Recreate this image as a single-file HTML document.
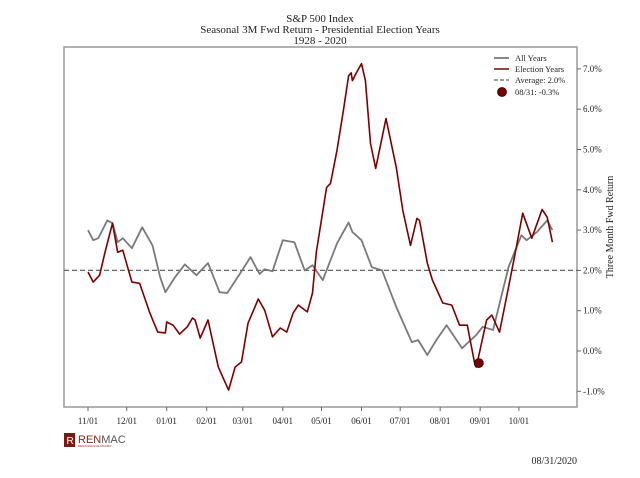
<!DOCTYPE html>
<html><head><meta charset="utf-8"><style>
body{margin:0;background:#fff;}
svg text{font-family:"Liberation Serif",serif;fill:#222;}
</style></head><body>
<svg width="640" height="473" viewBox="0 0 640 473" xmlns="http://www.w3.org/2000/svg">
<g id="root"></g>
</svg>
<script>
const tickDays=[0,30,61,92,120,151,181,212,242,273,304,334];
const tickLabels=["11/01","12/01","01/01","02/01","03/01","04/01","05/01","06/01","07/01","08/01","09/01","10/01"];
const yTicks=[-1,0,1,2,3,4,5,6,7];
const electionDays=[0,4,9,13,19,23,27,34,40,48,54,60,61,66,71,77,81,83,87,93,101,109,114,119,124,132,137,143,149,154,159,163,170,174,177,185,188,193,198,202,204,205,208,212,215,219,223,231,239,244,250,255,257,263,267,275,282,288,294,300,301,309,313,319,326,332,337,344,352,356,360];
const electionVals=[1.96,1.71,1.88,2.43,3.17,2.45,2.5,1.71,1.68,0.94,0.47,0.45,0.72,0.64,0.42,0.6,0.82,0.77,0.32,0.77,-0.4,-0.97,-0.4,-0.27,0.69,1.29,1.01,0.35,0.57,0.47,0.94,1.14,0.97,1.44,2.45,4.06,4.16,4.98,5.97,6.83,6.9,6.71,6.9,7.13,6.71,5.15,4.53,5.77,4.55,3.49,2.62,3.29,3.24,2.18,1.76,1.19,1.14,0.64,0.64,-0.35,-0.4,0.77,0.89,0.47,1.58,2.57,3.42,2.8,3.51,3.32,2.7];
const allDays=[0,4,8,15,19,23,27,34,42,50,56,60,67,75,84,93,102,108,118,126,133,137,143,151,160,168,174,182,193,202,205,212,220,228,239,251,256,263,270,278,290,301,306,314,326,336,340,348,356,360];
const allVals=[3.0,2.75,2.8,3.24,3.17,2.7,2.8,2.55,3.07,2.62,1.83,1.46,1.81,2.15,1.88,2.18,1.46,1.44,1.93,2.33,1.91,2.03,1.98,2.75,2.7,2.0,2.13,1.76,2.67,3.19,2.95,2.75,2.08,2.0,1.09,0.22,0.27,-0.1,0.27,0.64,0.07,0.4,0.6,0.52,2.08,2.87,2.75,2.95,3.24,3.0];
const avgVal=2.0;
const markerDay=303, markerVal=-0.3;

const L=64,T=47,R=577,B=407;
const xS=d=>88+d*1.29;
const yS=v=>351-40.3*v;
const NS="http://www.w3.org/2000/svg";
const root=document.getElementById('root');
function mk(tag,attrs,parent){const e=document.createElementNS(NS,tag);for(const k in attrs)e.setAttribute(k,attrs[k]);(parent||root).appendChild(e);return e;}
function txt(s,attrs){const e=mk('text',attrs);e.textContent=s;return e;}

let t;
t=txt("S&P 500 Index",{x:320,y:22,'text-anchor':'middle','font-size':11});


t=txt("Seasonal 3M Fwd Return - Presidential Election Years",{x:320,y:33,'text-anchor':'middle','font-size':11});


t=txt("1928 - 2020",{x:320,y:44,'text-anchor':'middle','font-size':11});



let frame=mk('rect',{x:L,y:T,width:R-L,height:B-T,fill:'none',stroke:'#999','stroke-width':1.5});



tickDays.forEach((d,i)=>{
  const x=xS(d);
  const l=mk('line',{x1:x,y1:B,x2:x,y2:B+4,stroke:'#666'});
  
  
  const s=txt(tickLabels[i],{x:x,y:B+17,'text-anchor':'middle','font-size':9});
  
  
});
yTicks.forEach(v=>{
  const y=yS(v);
  const l=mk('line',{x1:R,y1:y,x2:R+4,y2:y,stroke:'#666'});
  
  
  const s=txt(v.toFixed(1)+"%",{x:R+6,y:y+3,'font-size':9});
  
  
});
t=txt("Three Month Fwd Return",{x:0,y:0,'text-anchor':'middle','font-size':10,transform:'translate(613,227) rotate(-90)'});



let avg=mk('line',{x1:L,y1:yS(avgVal),x2:R,y2:yS(avgVal),stroke:'#666','stroke-width':1.3,'stroke-dasharray':'5,3'});



function path(days,vals){return days.map((d,i)=>(i?'L':'M')+xS(d).toFixed(1)+','+yS(vals[i]).toFixed(1)).join('');}
let pa=mk('path',{d:path(allDays,allVals),fill:'none',stroke:'#7a7a7a','stroke-width':1.8,'stroke-linejoin':'round'});


let pe=mk('path',{d:path(electionDays,electionVals),fill:'none',stroke:'#7b0000','stroke-width':1.6,'stroke-linejoin':'round'});


let dot=mk('circle',{cx:xS(markerDay),cy:yS(markerVal),r:4.5,fill:'#7b0000',stroke:'#111','stroke-width':0.8});



const lg=mk('g',{});


const ly=[58,69,80,92];
mk('line',{x1:494,y1:ly[0],x2:509,y2:ly[0],stroke:'#7a7a7a','stroke-width':1.8},lg);
mk('line',{x1:494,y1:ly[1],x2:509,y2:ly[1],stroke:'#7b0000','stroke-width':1.5},lg);
mk('line',{x1:494,y1:ly[2],x2:509,y2:ly[2],stroke:'#666','stroke-width':1.3,'stroke-dasharray':'4,2'},lg);
mk('circle',{cx:502,cy:ly[3],r:4.5,fill:'#7b0000',stroke:'#111','stroke-width':0.8},lg);
["All Years","Election Years","Average: 2.0%","08/31: -0.3%"].forEach((s,i)=>{
  const q=document.createElementNS(NS,'text');
  q.setAttribute('x',515);q.setAttribute('y',ly[i]+3);q.setAttribute('font-size',8.5);
  q.textContent=s;lg.appendChild(q);
  
  
});

const logo=mk('g',{});


mk('rect',{x:64,y:433,width:11,height:14,fill:'#7b1a12'},logo);
mk('text',{x:66.5,y:444,'font-size':10,style:'fill:#fff;font-family:"Liberation Sans",sans-serif'},logo).textContent="R";
const r1=mk('text',{x:78,y:443,'font-size':11,style:'font-family:"Liberation Sans",sans-serif'},logo);
r1.innerHTML='<tspan style="fill:#8b2a1e">REN</tspan><tspan style="fill:#555">MAC</tspan>';
mk('text',{x:78,y:447,'font-size':3,style:'fill:#8b2a1e;font-family:"Liberation Sans",sans-serif'},logo).textContent="RENAISSANCE MACRO";
t=txt("08/31/2020",{x:577,y:464,'text-anchor':'end','font-size':10});


</script>
</body></html>
